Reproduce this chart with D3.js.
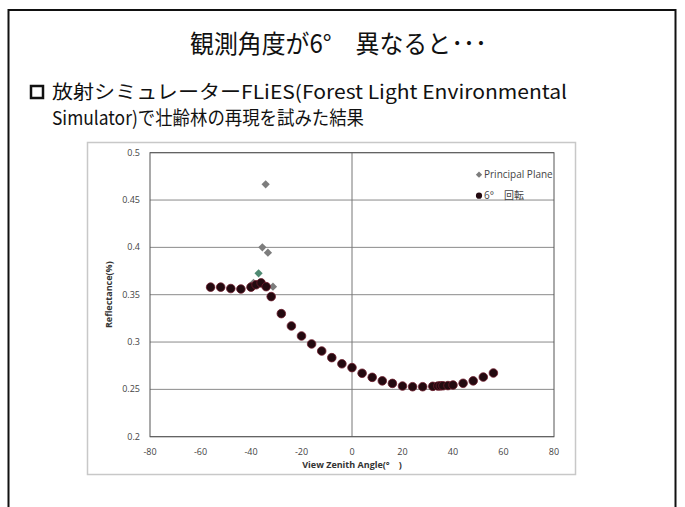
<!DOCTYPE html>
<html>
<head>
<meta charset="utf-8">
<script src="https://cdn.jsdelivr.net/npm/d3@7"></script>
<style>
  body { margin: 0; background: #fff; }
  svg { display: block; }
  .tick-label { font-family: "Open Sans", "Liberation Sans", sans-serif; font-size: 9px; fill: #444; }
  .axis-label { font-family: "Open Sans", "Noto Sans CJK JP", sans-serif; font-size: 9px; font-weight: bold; fill: #333; }
  .slide-text { font-family: "Noto Sans CJK JP", sans-serif; fill: #111; }
</style>
</head>
<body>
<div id="chart"></div>
<script>
// view zenith angle (deg) and reflectance
const rotAngles = [-56, -52, -48, -44, -40, -38, -36, -34, -32, -28, -24, -20, -16, -12, -8, -4, 0, 4, 8, 12, 16, 20, 24, 28, 32, 34, 35, 36, 38, 40, 44, 48, 52, 56];
const rotValues = [0.358, 0.358, 0.3565, 0.356, 0.358, 0.3605, 0.3625, 0.3585, 0.348, 0.330, 0.317, 0.3064, 0.298, 0.2905, 0.2835, 0.277, 0.273, 0.267, 0.2627, 0.259, 0.2563, 0.2535, 0.2528, 0.2528, 0.2532, 0.2535, 0.2537, 0.2538, 0.254, 0.2546, 0.2564, 0.259, 0.263, 0.2673];

const ppAngles = [-39, -35.5, -34.2, -33.3, -31.3];
const ppValues = [0.3625, 0.400, 0.4666, 0.3944, 0.3585];

// one odd-coloured diamond near the hot spot
const ppGreenAngles = [-37];
const ppGreenValues = [0.3726];

const xTicks = [-80, -60, -40, -20, 0, 20, 40, 60, 80];
const yTicks = [0.2, 0.25, 0.3, 0.35, 0.4, 0.45, 0.5];
const legendNames = ["Principal Plane", "6°\u3000回転"];

const W = 685, H = 507;
const plot = { left: 150, right: 554, top: 152.7, bottom: 436.7 };

const svg = d3.select("#chart")
  .append("svg")
  .attr("width", W)
  .attr("height", H);

// slide frame
svg.append("rect")
  .attr("x", 8.5).attr("y", 10)
  .attr("width", 667).attr("height", 520)
  .attr("fill", "none")
  .attr("stroke", "#111")
  .attr("stroke-width", 2);

// slide texts
svg.append("text")
  .attr("class", "slide-text")
  .attr("x", 190).attr("y", 53)
  .attr("textLength", 297)
  .attr("lengthAdjust", "spacingAndGlyphs")
  .style("font-size", "25px")
  .text("観測角度が6°\u3000異なると･･･");

svg.append("rect")
  .attr("x", 31).attr("y", 86)
  .attr("width", 12).attr("height", 12)
  .attr("fill", "none")
  .attr("stroke", "#111")
  .attr("stroke-width", 2.5);

svg.append("text")
  .attr("class", "slide-text")
  .attr("x", 52).attr("y", 99)
  .attr("textLength", 515)
  .attr("lengthAdjust", "spacingAndGlyphs")
  .style("font-size", "19px")
  .text("放射シミュレーターFLiES(Forest Light Environmental");

svg.append("text")
  .attr("class", "slide-text")
  .attr("x", 52).attr("y", 125)
  .attr("textLength", 312)
  .attr("lengthAdjust", "spacingAndGlyphs")
  .style("font-size", "19px")
  .text("Simulator)で壮齢林の再現を試みた結果");

// chart box
svg.append("rect")
  .attr("x", 87.5).attr("y", 142.5)
  .attr("width", 488).attr("height", 332)
  .attr("fill", "#fff")
  .attr("stroke", "#c8c8c8")
  .attr("stroke-width", 1.5);

const x = d3.scaleLinear().domain([-80, 80]).range([plot.left, plot.right]);
const y = d3.scaleLinear().domain([0.2, 0.5]).range([plot.bottom, plot.top]);

// horizontal gridlines
svg.append("g")
  .selectAll("line")
  .data(yTicks)
  .join("line")
  .attr("x1", plot.left).attr("x2", plot.right)
  .attr("y1", d => y(d)).attr("y2", d => y(d))
  .attr("stroke", "#8a8a8a")
  .attr("stroke-width", 1);

// vertical line at 0
svg.append("line")
  .attr("x1", x(0)).attr("x2", x(0))
  .attr("y1", plot.top).attr("y2", plot.bottom)
  .attr("stroke", "#777")
  .attr("stroke-width", 1);

// plot border
svg.append("rect")
  .attr("x", plot.left).attr("y", plot.top)
  .attr("width", plot.right - plot.left)
  .attr("height", plot.bottom - plot.top)
  .attr("fill", "none")
  .attr("stroke", "#555")
  .attr("stroke-width", 1);

// tick labels
svg.append("g")
  .selectAll("text")
  .data(yTicks)
  .join("text")
  .attr("class", "tick-label")
  .attr("x", 140)
  .attr("y", d => y(d) + 3)
  .style("text-anchor", "end")
  .text(d => d);

svg.append("g")
  .selectAll("text")
  .data(xTicks)
  .join("text")
  .attr("class", "tick-label")
  .attr("x", d => x(d))
  .attr("y", 455)
  .style("text-anchor", "middle")
  .text(d => d);

svg.append("text")
  .attr("class", "axis-label")
  .attr("x", x(0))
  .attr("y", 468)
  .style("text-anchor", "middle")
  .text("View Zenith Angle(°\u3000)");

svg.append("text")
  .attr("class", "axis-label")
  .attr("transform", `translate(112, ${(plot.top + plot.bottom) / 2}) rotate(-90)`)
  .style("text-anchor", "middle")
  .text("Reflectance(%)");

// points: diamonds are squares turned 45 degrees
const diamond = d3.symbol().type(d3.symbolSquare).size(34);

svg.append("g")
  .selectAll("path")
  .data(ppAngles.map((a, i) => [a, ppValues[i]]))
  .join("path")
  .attr("d", diamond)
  .attr("transform", d => `translate(${x(d[0])}, ${y(d[1])}) rotate(45)`)
  .attr("fill", "#7d7d7d");

svg.append("g")
  .selectAll("path")
  .data(ppGreenAngles.map((a, i) => [a, ppGreenValues[i]]))
  .join("path")
  .attr("d", diamond)
  .attr("transform", d => `translate(${x(d[0])}, ${y(d[1])}) rotate(45)`)
  .attr("fill", "#4f8a72");

svg.append("g")
  .selectAll("circle")
  .data(rotAngles.map((a, i) => [a, rotValues[i]]))
  .join("circle")
  .attr("cx", d => x(d[0]))
  .attr("cy", d => y(d[1]))
  .attr("r", 4.3)
  .attr("fill", "#230a10")
  .attr("stroke", "#6e1c2c")
  .attr("stroke-width", 0.8);

// legend, clipped by the plot edge like the original
svg.append("clipPath").attr("id", "legclip")
  .append("rect")
  .attr("x", plot.left).attr("y", plot.top)
  .attr("width", plot.right - plot.left)
  .attr("height", plot.bottom - plot.top);

const legend = svg.append("g")
  .attr("clip-path", "url(#legclip)")
  .selectAll("g")
  .data(legendNames)
  .join("g")
  .attr("transform", (d, i) => `translate(479, ${174.7 + i * 21})`);

legend.append("path")
  .attr("d", (d, i) => i === 0 ? d3.symbol().type(d3.symbolSquare).size(20)() : d3.symbol().type(d3.symbolCircle).size(30)())
  .attr("transform", (d, i) => i === 0 ? "rotate(45)" : null)
  .attr("fill", (d, i) => i === 0 ? "#7d7d7d" : "#230a10");

legend.append("text")
  .attr("x", 5)
  .attr("y", 3.5)
  .style("font-family", "'Open Sans', 'Noto Sans CJK JP', sans-serif")
  .style("font-size", "10px")
  .attr("fill", "#444")
  .text(d => d);
</script>
</body>
</html>
